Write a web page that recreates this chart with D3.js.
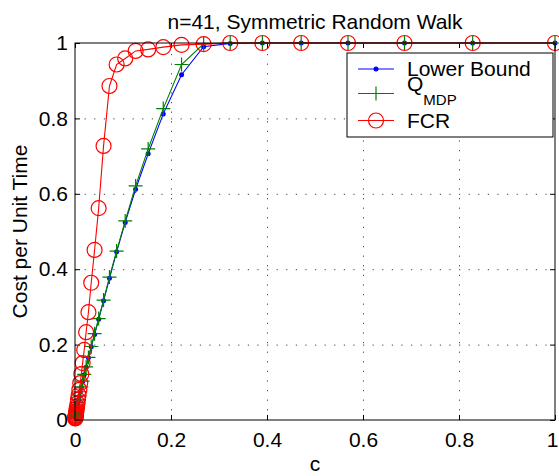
<!DOCTYPE html>
<html>
  <head>
    <meta charset="utf-8">
    <title>Cost per Unit Time</title>
    <script src="https://d3js.org/d3.v7.min.js"></script>
    <style>
      body { margin: 0; background: #fff; }
      text { font-family: "Liberation Sans", Arial, sans-serif; }
    </style>
  </head>
  <body>
    <script type="text/javascript">

      //Width and height
      var w = 559;
      var h = 476;
      var margin = {left: 75, right: 4, top: 43, bottom: 56};
      var pw = w - margin.left - margin.right;
      var ph = h - margin.top - margin.bottom;

      //Data
      var cValues = [1, 0.8285, 0.6864, 0.5687, 0.4712, 0.3904, 0.3234, 0.2680, 0.2220, 0.1839,
                     0.1524, 0.1263, 0.1046, 0.0867, 0.0718, 0.0595, 0.0493, 0.0408, 0.0338, 0.0280,
                     0.0232, 0.0192, 0.0159, 0.0132, 0.0109, 0.0091, 0.0075, 0.0062, 0.0052, 0.0043,
                     0.0035, 0.0029, 0.0024, 0.0020, 0.0017, 0.0014, 0.0012, 0.0010, 0.0008, 0.0007, 0.0005];

      var lowerBound = [1, 1, 1, 1, 1, 1, 0.999, 0.990, 0.916, 0.812,
                        0.706, 0.612, 0.524, 0.446, 0.376, 0.316, 0.267, 0.227, 0.194, 0.165,
                        0.140, 0.120, 0.102, 0.087, 0.074, 0.063, 0.054, 0.046, 0.039, 0.033,
                        0.028, 0.024, 0.020, 0.017, 0.015, 0.012, 0.010, 0.009, 0.008, 0.006, 0.005];

      var qmdp = [1, 1, 1, 1, 1, 1, 1, 0.998, 0.943, 0.826,
                  0.719, 0.621, 0.528, 0.448, 0.379, 0.318, 0.269, 0.229, 0.195, 0.166,
                  0.141, 0.121, 0.103, 0.088, 0.075, 0.064, 0.055, 0.047, 0.040, 0.034,
                  0.029, 0.025, 0.021, 0.018, 0.015, 0.013, 0.011, 0.009, 0.008, 0.007, 0.005];

      var fcr = [1, 1, 1, 1, 1, 1, 1, 0.997, 0.995, 0.989,
                 0.983, 0.979, 0.959, 0.943, 0.886, 0.727, 0.562, 0.451, 0.364, 0.286,
                 0.233, 0.186, 0.151, 0.122, 0.098, 0.080, 0.066, 0.054, 0.044, 0.036,
                 0.030, 0.024, 0.020, 0.016, 0.013, 0.011, 0.009, 0.007, 0.006, 0.005, 0.004];

      var xTicks = [0, 0.2, 0.4, 0.6, 0.8, 1];
      var yTicks = [0, 0.2, 0.4, 0.6, 0.8, 1];

      //Scales
      var xScale = d3.scaleLinear().domain([0, 1]).range([0, pw]);
      var yScale = d3.scaleLinear().domain([0, 1]).range([ph, 0]);

      var svg = d3.select("body")
                  .append("svg")
                  .attr("width", w)
                  .attr("height", h);

      var g = svg.append("g")
                 .attr("transform", "translate(" + margin.left + "," + margin.top + ")");

      //Dotted grid
      g.append("g")
       .attr("class", "grid")
       .attr("transform", "translate(0," + ph + ")")
       .call(d3.axisBottom(xScale).tickValues(xTicks.slice(1, -1)).tickSize(-ph).tickFormat(""));
      g.append("g")
       .attr("class", "grid")
       .call(d3.axisLeft(yScale).tickValues(yTicks.slice(1, -1)).tickSize(-pw).tickFormat(""));
      g.selectAll(".grid .domain").remove();
      g.selectAll(".grid line")
       .attr("stroke", "#444")
       .attr("stroke-width", 1)
       .attr("stroke-dasharray", "1.2,8.4");

      //Axes, ticks inside
      var fmt = function(d) { return d === 0 || d === 1 ? d3.format("d")(d) : d3.format(".1f")(d); };
      var xAxis = g.append("g")
                   .attr("transform", "translate(0," + ph + ")")
                   .call(d3.axisBottom(xScale).tickValues(xTicks).tickSize(-5).tickPadding(12).tickFormat(fmt));
      var yAxis = g.append("g")
                   .call(d3.axisLeft(yScale).tickValues(yTicks).tickSize(-5).tickPadding(7).tickFormat(fmt));
      g.append("g")
       .call(d3.axisTop(xScale).tickValues(xTicks).tickSize(-5).tickFormat(""));
      g.append("g")
       .attr("transform", "translate(" + pw + ",0)")
       .call(d3.axisRight(yScale).tickValues(yTicks).tickSize(-5).tickFormat(""));
      g.selectAll(".domain").remove();
      g.selectAll(".tick line").filter(function() { return this.parentNode.parentNode.getAttribute("class") !== "grid"; })
       .attr("stroke", "#000");
      [xAxis, yAxis].forEach(function(a) {
        a.selectAll("text").attr("font-size", "21px").attr("fill", "#000")
         .style("font-family", "'Liberation Sans', Arial, sans-serif");
      });
      //last x label sits at the window edge, nudge it in a little
      xAxis.selectAll("text").filter(function(d) { return d === 1; }).attr("dx", -3);

      //Series
      var series = [
        {name: "Lower Bound", values: lowerBound, color: "#0000ff", marker: "dot"},
        {name: "Q", sub: "MDP", values: qmdp, color: "#008000", marker: "plus"},
        {name: "FCR", values: fcr, color: "#ff0000", marker: "circle"}
      ];

      var line = d3.line()
                   .x(function(d) { return xScale(d[0]); })
                   .y(function(d) { return yScale(d[1]); });

      var drawMarker = function(sel, s) {
        if (s.marker === "dot") {
          sel.append("circle").attr("r", 2.5).attr("fill", s.color);
        } else if (s.marker === "plus") {
          sel.append("path").attr("d", "M-7,0H7M0,-7V7")
             .attr("stroke", s.color).attr("stroke-width", 1.2).attr("fill", "none");
        } else {
          sel.append("circle").attr("r", 7.5).attr("fill", "none")
             .attr("stroke", s.color).attr("stroke-width", 1.2);
        }
      };

      series.forEach(function(s) {
        var pts = cValues.map(function(c, i) { return [c, s.values[i]]; });
        g.append("path")
         .datum(pts)
         .attr("d", line)
         .attr("fill", "none")
         .attr("stroke", s.color)
         .attr("stroke-width", 1.1);
        g.selectAll(".m-" + s.marker)
         .data(pts)
         .enter()
         .append("g")
         .attr("class", "m-" + s.marker)
         .attr("transform", function(d) { return "translate(" + xScale(d[0]) + "," + yScale(d[1]) + ")"; })
         .each(function() { drawMarker(d3.select(this), s); });
      });

      //Box
      g.append("rect")
       .attr("width", pw)
       .attr("height", ph)
       .attr("fill", "none")
       .attr("stroke", "#000")
       .attr("stroke-width", 1);

      //Title and labels
      svg.append("text")
         .attr("x", margin.left + pw / 2)
         .attr("y", 29)
         .attr("text-anchor", "middle")
         .attr("font-size", "21px")
         .text("n=41, Symmetric Random Walk");

      svg.append("text")
         .attr("x", margin.left + pw / 2)
         .attr("y", 471)
         .attr("text-anchor", "middle")
         .attr("font-size", "21px")
         .text("c");

      svg.append("text")
         .attr("transform", "translate(27," + (margin.top + ph / 2) + ") rotate(-90)")
         .attr("text-anchor", "middle")
         .attr("font-size", "21px")
         .text("Cost per Unit Time");

      //Legend
      var legend = svg.append("g").attr("transform", "translate(347,53)");
      legend.append("rect")
            .attr("width", 206)
            .attr("height", 84)
            .attr("fill", "#fff")
            .attr("stroke", "#000")
            .attr("stroke-width", 1);

      var rowY = [16, 40.5, 67.5];
      series.forEach(function(s, i) {
        var row = legend.append("g").attr("transform", "translate(0," + rowY[i] + ")");
        row.append("line")
           .attr("x1", 11).attr("x2", 47)
           .attr("stroke", s.color).attr("stroke-width", 1.1);
        drawMarker(row.append("g").attr("transform", "translate(29,0)"), s);
        var t = row.append("text")
                   .attr("x", 60)
                   .attr("font-size", "21px");
        if (s.sub) {
          t.attr("y", -3).text(s.name);
          t.append("tspan").attr("dy", 14).attr("font-size", "15px").text(s.sub);
        } else {
          t.attr("y", 7).text(s.name);
        }
      });

    </script>
  </body>
</html>
